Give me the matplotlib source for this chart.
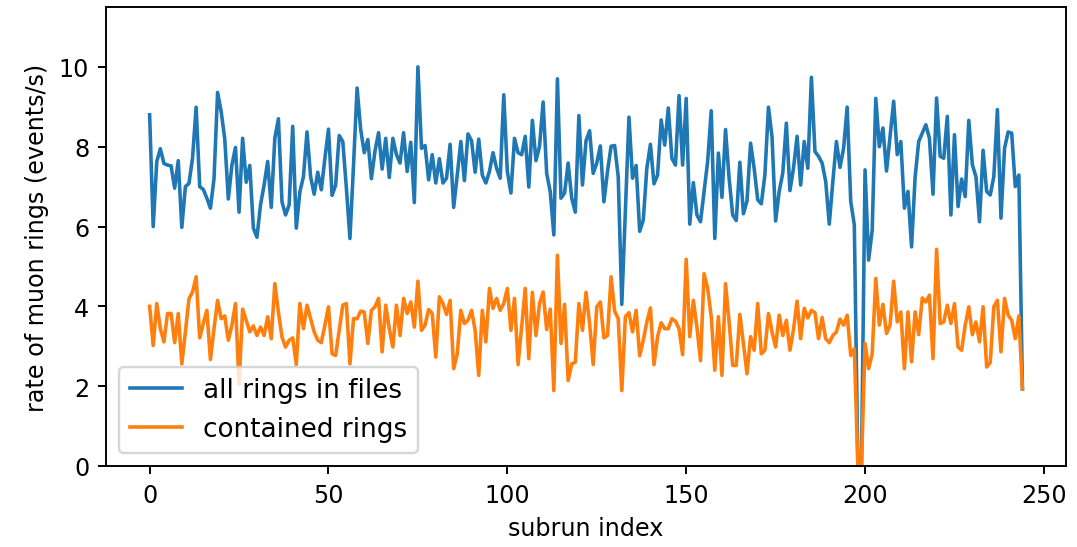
import numpy as np
import matplotlib
matplotlib.use("Agg")
import matplotlib.pyplot as plt

# rates, one value per subrun
all_rings = [
    8.80, 6.00, 7.63, 7.95, 7.58, 7.54, 7.52, 6.96, 7.65, 5.98,
    7.00, 7.08, 7.72, 8.99, 7.00, 6.93, 6.71, 6.46, 7.20, 9.36,
    8.88, 8.20, 6.69, 7.54, 7.98, 6.36, 8.21, 7.11, 7.53, 5.96,
    5.73, 6.54, 7.04, 7.63, 6.48, 8.21, 8.70, 6.62, 6.29, 6.54,
    8.51, 5.96, 6.87, 7.25, 8.37, 7.25, 6.81, 7.36, 6.92, 7.71,
    8.44, 6.78, 7.04, 8.28, 8.13, 6.97, 5.70, 7.54, 9.47, 8.43,
    7.85, 8.18, 7.20, 7.89, 8.35, 7.44, 8.21, 7.23, 8.21, 7.80,
    7.59, 8.35, 7.38, 8.11, 6.60, 10.0, 7.96, 8.03, 7.17, 7.80,
    7.09, 7.70, 7.09, 7.21, 8.06, 6.48, 7.29, 8.13, 7.15, 8.32,
    8.15, 7.36, 8.19, 7.29, 7.09, 7.38, 7.85, 7.46, 7.21, 9.30,
    7.38, 6.84, 8.21, 7.85, 7.80, 8.26, 6.99, 8.66, 7.65, 8.01,
    9.12, 7.33, 6.87, 5.79, 9.70, 6.71, 6.84, 7.59, 6.71, 6.36,
    8.78, 7.04, 8.15, 8.40, 7.33, 7.59, 8.02, 6.62, 7.38, 8.01,
    8.03, 7.25, 4.05, 6.40, 8.74, 7.21, 7.53, 5.88, 6.16, 7.46,
    8.06, 7.07, 7.29, 8.67, 8.04, 8.97, 7.71, 7.54, 9.28, 7.54,
    9.21, 6.06, 7.10, 6.29, 6.12, 6.88, 7.63, 8.90, 5.70, 7.84,
    6.73, 8.43, 7.21, 6.29, 6.15, 7.61, 6.32, 6.64, 8.09, 7.46,
    6.67, 6.57, 7.29, 8.99, 8.24, 6.14, 6.88, 7.34, 8.59, 6.90,
    7.46, 8.26, 7.04, 8.13, 7.46, 9.74, 7.88, 7.76, 7.59, 7.13,
    6.06, 7.13, 8.13, 7.48, 7.96, 8.99, 6.63, 6.04, 0.00, 0.00,
    7.42, 5.16, 5.91, 9.21, 8.00, 8.47, 7.39, 8.26, 9.14, 7.80,
    8.13, 6.46, 6.88, 5.49, 7.24, 8.13, 8.34, 8.55, 8.21, 6.81,
    9.22, 7.76, 7.71, 8.76, 6.29, 8.30, 6.50, 7.19, 6.75, 8.66,
    7.55, 7.25, 6.12, 7.91, 6.88, 6.79, 7.25, 8.93, 6.21, 7.96,
    8.37, 8.34, 7.00, 7.29, 1.93,
]
contained = [
    4.00, 3.02, 4.07, 3.44, 3.11, 3.82, 3.82, 3.09, 3.82, 2.56,
    3.36, 4.19, 4.36, 4.74, 3.21, 3.57, 3.90, 2.67, 3.44, 4.15,
    3.69, 3.76, 3.15, 3.53, 4.07, 2.05, 3.93, 3.65, 3.36, 3.51,
    3.27, 3.48, 3.27, 3.74, 3.19, 4.57, 3.86, 3.23, 2.98, 3.15,
    3.21, 2.54, 4.07, 3.44, 4.03, 3.69, 3.36, 3.15, 3.09, 3.53,
    3.99, 2.81, 2.77, 3.40, 4.03, 4.07, 2.56, 3.69, 3.69, 3.88,
    3.86, 3.07, 3.90, 3.99, 4.20, 2.86, 4.03, 3.44, 2.98, 4.03,
    3.27, 4.20, 3.82, 4.11, 3.48, 4.63, 3.40, 3.53, 3.92, 3.82,
    2.73, 4.24, 4.07, 3.80, 4.15, 2.44, 2.81, 3.90, 3.57, 3.65,
    3.90, 3.40, 2.27, 3.90, 3.11, 4.45, 3.95, 4.20, 3.90, 4.07,
    4.45, 3.40, 4.20, 2.54, 3.48, 4.45, 2.69, 4.35, 3.27, 4.07,
    4.36, 3.42, 3.93, 1.89, 5.28, 3.07, 4.05, 2.14, 2.56, 2.60,
    4.07, 3.40, 4.35, 3.57, 2.54, 3.99, 4.11, 3.21, 3.27, 4.74,
    3.88, 3.69, 1.89, 3.74, 3.84, 3.36, 3.90, 2.76, 3.15, 3.61,
    3.96, 2.54, 3.24, 3.59, 3.44, 3.44, 3.69, 3.63, 3.44, 2.79,
    5.18, 3.24, 4.15, 3.48, 2.64, 4.82, 4.45, 3.74, 2.40, 3.74,
    2.27, 4.57, 3.61, 2.52, 2.52, 3.80, 3.07, 2.31, 3.24, 2.90,
    4.07, 2.81, 2.90, 3.82, 3.36, 2.98, 3.78, 3.27, 3.65, 2.90,
    3.42, 4.13, 3.19, 3.95, 3.71, 3.90, 3.84, 3.19, 3.72, 3.19,
    3.09, 3.27, 3.36, 3.68, 3.53, 3.78, 2.77, 2.94, 0.00, 0.00,
    3.07, 2.44, 2.81, 4.70, 3.53, 4.05, 3.32, 3.53, 4.63, 3.61,
    3.86, 2.44, 3.86, 2.61, 3.86, 3.29, 4.21, 4.11, 4.28, 2.69,
    5.43, 3.57, 3.61, 4.03, 3.57, 4.07, 2.98, 2.90, 3.53, 3.99,
    3.29, 3.61, 3.11, 3.99, 2.48, 2.59, 3.99, 4.15, 2.86, 4.20,
    3.78, 3.65, 3.19, 3.76, 1.93,
]
subrun = np.arange(len(all_rings))

fig = plt.figure(figsize=(6.262, 3.186), dpi=172)
ax = fig.add_axes([0.0984, 0.1478, 0.8914, 0.8376])
ax.plot(subrun, all_rings, label='all rings in files')
ax.plot(subrun, contained, label='contained rings')
ax.set_ylim(0, 11.5)
ax.set_xlabel('subrun index')
ax.set_ylabel('rate of muon rings (events/s)')
ax.legend(loc='lower left', fontsize=11)

fig.savefig('out.png', dpi=172)
